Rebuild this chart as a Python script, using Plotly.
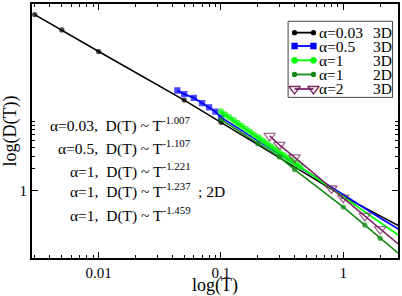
import plotly.graph_objects as go

# ---- data ----
black_T = [0.003, 0.005, 0.01, 0.05, 0.1, 1.0, 3.0]
black_D = [274, 168, 84.3, 17.9, 8.81, 0.828, 0.309]

blue_T = [0.044, 0.05, 0.06, 0.07, 0.08, 0.09, 0.1, 0.2, 0.5, 1.0, 2.0, 3.0]
blue_D = [24.3, 21.6, 19.2, 16.3, 14.2, 12.4, 10.3, 4.90, 1.82, 0.875, 0.415, 0.275]

green_T = [0.100, 0.108, 0.117, 0.127, 0.137, 0.148, 0.160, 0.173, 0.187, 0.204,
           0.219, 0.237, 0.256, 0.277, 0.299, 0.324, 0.350, 0.379, 0.410, 0.443,
           1.0, 2.0, 3.0]
green_D = [12.36, 11.27, 10.28, 9.37, 8.55, 7.79, 7.10, 6.48, 5.91, 5.38,
           4.91, 4.48, 4.08, 3.72, 3.40, 3.10, 2.82, 2.57, 2.35, 2.14,
           0.817, 0.361, 0.223]

dgreen_T = [0.1, 0.2, 0.3, 0.4, 1.0, 1.5, 2.0, 3.0]
dgreen_D = [9.6, 4.46, 2.92, 1.95, 0.589, 0.332, 0.217, 0.123]

purple_T = [0.25, 0.3, 0.4, 0.8, 1.0, 1.5, 2.0, 3.0]
purple_D = [5.70, 4.30, 2.87, 1.065, 0.794, 0.445, 0.292, 0.166]

legend_names = ["α=0.03", "α=0.5", "α=1", "α=1", "α=2"]
legend_dims = ["3D", "3D", "3D", "2D", "3D"]

fit_labels = ["α=0.03,  D(T) ~ T<sup>-1.007</sup>",
              "α=0.5,  D(T) ~ T<sup>-1.107</sup>",
              "α=1,  D(T) ~ T<sup>-1.221</sup>",
              "α=1,  D(T) ~ T<sup>-1.237</sup>",
              "α=1,  D(T) ~ T<sup>-1.459</sup>"]

x_ticks = [0.01, 0.1, 1]
x_ticktext = ["0.01", "0.1", "1"]
x_minor = [0.003, 0.004, 0.005, 0.006, 0.007, 0.008, 0.009,
           0.02, 0.03, 0.04, 0.05, 0.06, 0.07, 0.08, 0.09,
           0.2, 0.3, 0.4, 0.5, 0.6, 0.7, 0.8, 0.9, 2]
y_ticks = [1]
y_ticktext = ["1"]
y_minor = [2, 3, 4, 5, 6, 7, 8, 9]

# ---- style ----
FONT = "Liberation Serif"
C_BLACK = "#000000"
C_BLUE = "#0000ff"
C_GREEN = "#00ff00"
C_DGREEN = "#128a12"
C_PURPLE = "#7a2862"

W, H = 402, 296
ML, MR, MT, MB = 32, 2, 2, 37
PW, PH = W - ML - MR, H - MT - MB

def fx(px):
    return (px - ML) / PW

def fy(py):
    return (H - MB - py) / PH

fig = go.Figure()

def add_series(T, D, color, symbol, size, width, maxT):
    sizes = [size if t <= maxT else 0 for t in T]
    fig.add_trace(go.Scatter(
        x=T, y=D, mode="lines+markers",
        line=dict(color=color, width=width),
        marker=dict(color=color, symbol=symbol, size=sizes,
                    line=dict(color=color, width=1.3)),
        showlegend=False, hoverinfo="skip"))

add_series(black_T, black_D, C_BLACK, "circle", 4, 1.6, 1.0)
add_series(blue_T, blue_D, C_BLUE, "square", 5, 1.8, 0.1)
add_series(green_T, green_D, C_GREEN, "circle", 5.5, 1.8, 0.45)
add_series(dgreen_T, dgreen_D, C_DGREEN, "circle", 4, 1.6, 2.0)
add_series(purple_T, purple_D, C_PURPLE, "triangle-down-open", 10, 1.6, 2.0)

# ---- legend (drawn manually) ----
leg_colors = [C_BLACK, C_BLUE, C_GREEN, C_DGREEN, C_PURPLE]
leg_symbols = ["circle", "square", "circle", "circle", "triangle-down-open"]
leg_sizes = [4, 5, 5.5, 4, 10]
row_py = [31, 44.5, 59, 73.3, 88]
for i in range(5):
    fig.add_trace(go.Scatter(
        x=[fx(296), fx(315)], y=[fy(row_py[i]), fy(row_py[i])],
        xaxis="x2", yaxis="y2", mode="lines+markers",
        line=dict(color=leg_colors[i], width=1.8),
        marker=dict(color=leg_colors[i], symbol=leg_symbols[i], size=leg_sizes[i],
                    line=dict(color=leg_colors[i], width=1.3)),
        showlegend=False, hoverinfo="skip", cliponaxis=False))

annotations = []
for i in range(5):
    annotations.append(dict(x=fx(318.5), y=fy(row_py[i]), xref="paper", yref="paper",
                            text=legend_names[i], showarrow=False, xanchor="left",
                            yanchor="middle", font=dict(family=FONT, size=15.5, color="black")))
    annotations.append(dict(x=fx(372.5), y=fy(row_py[i]), xref="paper", yref="paper",
                            text=legend_dims[i], showarrow=False, xanchor="left",
                            yanchor="middle", font=dict(family=FONT, size=15.5, color="black")))

fit_py = [124, 147.5, 170, 191, 215]
for i in range(5):
    annotations.append(dict(x=fx(194), y=fy(fit_py[i]), xref="paper", yref="paper",
                            text=fit_labels[i], showarrow=False, xanchor="right",
                            yanchor="middle", font=dict(family=FONT, size=15.5, color="black")))
annotations.append(dict(x=fx(197), y=fy(fit_py[3] + 1), xref="paper", yref="paper",
                        text="; 2D", showarrow=False, xanchor="left", yanchor="middle",
                        font=dict(family=FONT, size=15.5, color="black")))

shapes = [dict(type="rect", xref="paper", yref="paper",
               x0=fx(289.5), x1=fx(394.5), y0=fy(96.5), y1=fy(19.5),
               line=dict(color="#444444", width=1), fillcolor="white", layer="below")]

axis_common = dict(showline=True, linewidth=2, linecolor="black", mirror="allticks",
                   ticks="inside", ticklen=6, tickwidth=1, tickcolor="black",
                   showgrid=False, zeroline=False,
                   tickfont=dict(family=FONT, size=15, color="black"))

fig.update_layout(
    width=W, height=H,
    margin=dict(l=ML, r=MR, t=MT, b=MB),
    paper_bgcolor="white", plot_bgcolor="white",
    font=dict(family=FONT, color="black"),
    showlegend=False,
    xaxis=dict(type="log", range=[-2.545, 0.447], tickmode="array",
               tickvals=x_ticks, ticktext=x_ticktext,
               minor=dict(tickmode="array", tickvals=x_minor, ticks="inside",
                          ticklen=3, tickcolor="black", tickwidth=1),
               title=dict(text="log(T)", font=dict(family=FONT, size=18), standoff=0),
               **axis_common),
    yaxis=dict(type="log", range=[-0.936, 2.585], tickmode="array",
               tickvals=y_ticks, ticktext=y_ticktext,
               minor=dict(tickmode="array", tickvals=y_minor, ticks="inside",
                          ticklen=3, tickcolor="black", tickwidth=1),
               title=dict(text="log(D(T))", font=dict(family=FONT, size=18), standoff=2),
               **axis_common),
    xaxis2=dict(overlaying="x", range=[0, 1], visible=False),
    yaxis2=dict(overlaying="y", range=[0, 1], visible=False),
    annotations=annotations,
    shapes=shapes,
)

fig.write_html("out.html", config={"displayModeBar": False},
               post_script="document.body.style.margin='0';document.body.style.overflow='hidden';")
